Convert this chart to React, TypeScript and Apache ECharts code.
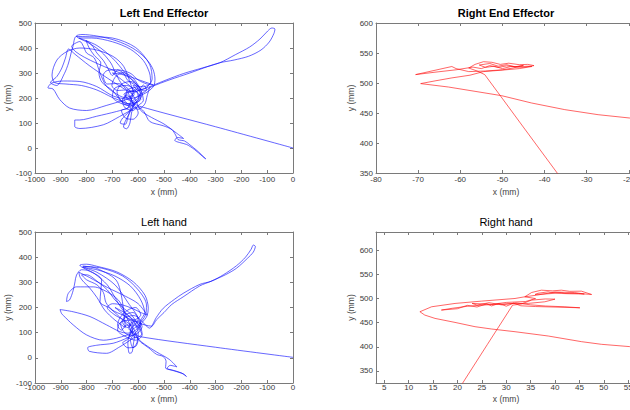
import React, { useEffect, useRef } from 'react';
import * as echarts from 'echarts';

// ---------- tick labels ----------
const leftXTicks = [-1000, -900, -800, -700, -600, -500, -400, -300, -200, -100, 0];
const leftYTicks = [-100, 0, 100, 200, 300, 400, 500];
const rightEEXTicks = [-80, -70, -60, -50, -40, -30, -20];
const rightEEYTicks = [350, 400, 450, 500, 550, 600];
const rightHandXTicks = [5, 10, 15, 20, 25, 30, 35, 40, 45, 50, 55];
const rightHandYTicks = [350, 400, 450, 500, 550, 600];

const titles = ['Left End Effector', 'Right End Effector', 'Left hand', 'Right hand'];

// ---------- trajectories [x (mm), y (mm)] ----------
const leftEndEffector: [number, number][] = [
  [0, 0], [-300, 85], [-598, 168],
  [-622, 182], [-648, 205], [-642, 232], [-612, 242], [-592, 220], [-608, 192], [-640, 176], [-668, 192], [-682, 225], [-664, 256], [-628, 266], [-600, 248], [-578, 228],
  [-548, 245], [-480, 272], [-400, 300], [-330, 326], [-284, 341], [-228, 352], [-172, 367], [-124, 392], [-92, 424], [-74, 458], [-70, 476], [-82, 480], [-98, 468], [-128, 436], [-168, 404], [-222, 374], [-284, 341], [-352, 320], [-424, 298], [-492, 272], [-544, 250],
  [-578, 236], [-612, 226], [-644, 234], [-668, 262], [-688, 300], [-706, 340], [-744, 386], [-792, 420], [-840, 448], [-818, 454], [-760, 448], [-697, 433], [-640, 410], [-594, 380], [-560, 345], [-542, 313], [-535, 276], [-540, 248], [-562, 226],
  [-600, 206], [-640, 196], [-697, 208], [-761, 246], [-826, 266], [-890, 268], [-935, 260], [-950, 241], [-930, 236], [-905, 195], [-866, 160], [-800, 150], [-724, 170], [-672, 186], [-640, 196], [-616, 214],
  [-628, 252], [-656, 326], [-697, 366], [-761, 392], [-826, 400], [-876, 386], [-915, 352], [-934, 292], [-924, 262], [-880, 256], [-820, 250], [-760, 232], [-700, 202], [-652, 182], [-622, 166],
  [-640, 128], [-657, 84], [-645, 77], [-632, 100], [-626, 140], [-614, 176],
  [-640, 160], [-684, 146], [-761, 127], [-828, 112], [-846, 112], [-846, 86], [-826, 78], [-735, 93], [-672, 126], [-630, 150], [-602, 164],
  [-578, 146], [-555, 106], [-503, 89], [-470, 74], [-455, 52], [-446, 34], [-420, 28], [-400, 13], [-370, -12], [-338, -44], [-352, -32], [-382, -6], [-412, 14], [-440, 22], [-458, 30], [-448, 42], [-424, 38], [-452, 60], [-500, 96], [-548, 122], [-590, 150],
  [-612, 196], [-640, 238], [-680, 258], [-720, 256], [-736, 290], [-720, 310], [-684, 313], [-632, 300], [-600, 272], [-566, 256], [-542, 253], [-858, 407], [-852, 414], [-826, 426], [-812, 406], [-800, 380], [-770, 360], [-748, 300], [-724, 248], [-690, 220], [-652, 202], [-622, 212],
  [-660, 240], [-720, 280], [-790, 330], [-845, 375], [-870, 396], [-882, 360], [-896, 320], [-916, 285], [-940, 262], [-916, 250], [-886, 298], [-870, 340], [-860, 380], [-853, 406], [-840, 446],
  [-790, 445], [-700, 440], [-610, 402], [-556, 335], [-546, 276], [-568, 242],
  [-600, 230], [-630, 205], [-615, 180], [-590, 195], [-605, 225], [-645, 250], [-690, 240], [-700, 205], [-670, 180], [-630, 170], [-600, 186], [-585, 215], [-610, 260], [-650, 290], [-700, 300], [-660, 270], [-620, 230], [-640, 160], [-665, 150], [-650, 120], [-620, 115], [-600, 140], [-625, 185], [-655, 215],
  [-600, 240], [-650, 300], [-700, 360], [-760, 410], [-830, 440], [-780, 440], [-700, 425], [-630, 395], [-580, 350], [-556, 300], [-552, 262], [-580, 245],
  [-620, 250], [-600, 230], [-580, 252], [-568, 232], [-600, 210], [-622, 190], [-642, 212], [-662, 190], [-650, 160], [-620, 150], [-600, 170], [-580, 190], [-590, 232], [-622, 282], [-660, 302], [-690, 282], [-702, 250], [-680, 230], [-650, 232], [-630, 200], [-620, 170], [-640, 140], [-660, 120], [-670, 100], [-650, 95], [-640, 122], [-630, 160],
  [-660, 180], [-700, 230], [-740, 262], [-752, 300], [-745, 340], [-770, 370], [-790, 400], [-802, 430], [-780, 412], [-760, 380], [-735, 350], [-718, 320], [-700, 290], [-680, 312], [-658, 300], [-640, 270], [-610, 250],
  [-590, 215], [-605, 185], [-635, 175], [-655, 195], [-640, 222], [-612, 228], [-598, 200], [-620, 168], [-600, 155], [-575, 175], [-565, 210], [-555, 245],
];

const leftHand: [number, number][] = [
  [0, 2], [-300, 42], [-592, 84],
  [-612, 96], [-636, 116], [-628, 140], [-600, 146], [-585, 124], [-600, 100], [-630, 88], [-656, 104], [-668, 134], [-650, 160], [-616, 168], [-590, 150], [-570, 128],
  [-556, 118], [-530, 160], [-503, 197], [-460, 232], [-426, 256], [-361, 292], [-318, 304], [-270, 330], [-219, 366], [-184, 400], [-162, 432], [-154, 448], [-146, 443], [-154, 420], [-176, 396], [-219, 356], [-262, 330], [-318, 304], [-361, 286], [-426, 242], [-470, 212], [-500, 180], [-530, 150], [-548, 126],
  [-572, 130], [-600, 140], [-630, 160], [-660, 190], [-690, 240], [-720, 290], [-770, 335], [-826, 368], [-800, 372], [-761, 364], [-684, 342], [-619, 302], [-574, 249], [-561, 197], [-566, 166], [-585, 140],
  [-610, 110], [-640, 98], [-671, 104], [-723, 131], [-787, 164], [-852, 183], [-903, 192], [-897, 176], [-890, 168], [-852, 131], [-800, 91], [-735, 70], [-684, 78], [-645, 90], [-620, 100],
  [-640, 150], [-671, 222], [-710, 256], [-774, 282], [-839, 282], [-871, 256], [-878, 224], [-866, 230], [-852, 268], [-845, 302], [-839, 329], [-820, 350], [-790, 345], [-742, 309], [-748, 223], [-710, 197], [-660, 150], [-630, 110],
  [-640, 60], [-634, 18], [-624, 22], [-618, 60], [-612, 95],
  [-640, 80], [-697, 58], [-761, 50], [-796, 40], [-790, 26], [-723, 18], [-671, 44], [-640, 64], [-610, 82],
  [-590, 62], [-560, 40], [-529, 14], [-503, 5], [-492, -14], [-494, -40], [-470, -48], [-432, -60], [-413, -74], [-425, -64], [-460, -52], [-488, -42], [-476, -30], [-450, -36], [-480, -6], [-530, 24], [-575, 54], [-600, 76],
  [-620, 120], [-655, 150], [-690, 170], [-720, 200], [-700, 215], [-660, 210], [-620, 195], [-590, 180], [-565, 170], [-600, 215], [-650, 245], [-720, 280], [-790, 320], [-830, 340], [-825, 320], [-810, 300], [-790, 280], [-760, 240], [-730, 190], [-690, 150], [-650, 120],
  [-680, 300], [-760, 355], [-815, 364], [-740, 356], [-660, 325], [-600, 270], [-568, 210], [-572, 170],
  [-600, 130], [-625, 105], [-610, 80], [-585, 95], [-595, 130], [-630, 150], [-670, 140], [-680, 110], [-650, 85], [-610, 70], [-585, 90], [-600, 120], [-640, 170], [-690, 200], [-650, 165], [-620, 130], [-640, 75], [-660, 60], [-640, 40], [-610, 45], [-600, 75], [-630, 110],
  [-600, 150], [-640, 220], [-690, 290], [-760, 340], [-815, 360], [-760, 350], [-690, 325], [-630, 285], [-590, 230], [-575, 180], [-590, 150],
  [-600, 120], [-620, 140], [-640, 120], [-660, 140], [-650, 170], [-620, 180], [-600, 160], [-590, 130], [-610, 100], [-630, 70], [-620, 40], [-605, 60], [-600, 100], [-615, 130], [-645, 130], [-665, 110], [-680, 130], [-670, 160], [-640, 190], [-610, 200], [-590, 170],
  [-620, 150], [-660, 170], [-700, 190], [-725, 220], [-735, 260], [-760, 290], [-800, 310], [-820, 330], [-800, 330], [-760, 305], [-720, 270], [-690, 230], [-660, 200], [-630, 175], [-605, 140], [-590, 110],
];

const rightEndEffector: [number, number][] = [
  [-34.9, 330], [-37, 350], [-45.4, 430], [-50.1, 475], [-54.2, 514],
  [-56, 520], [-58, 525], [-56.5, 531], [-54.5, 535.5], [-52.5, 534.5], [-50.5, 531], [-48.5, 533], [-46, 530.5], [-44, 531], [-42.5, 529], [-45, 526], [-48, 527.5], [-50, 524], [-52, 528], [-54, 526], [-55.5, 530], [-53, 532.5], [-51, 528], [-49, 530.5], [-47, 527], [-45, 529.5], [-47.5, 525], [-50, 522], [-54, 520], [-58, 519], [-61, 524], [-62, 527.5],
  [-70.6, 514], [-66, 518], [-61, 522], [-57, 526.5], [-55, 524], [-53, 529], [-51, 526], [-49, 528.5], [-46.5, 527], [-44, 528], [-43, 527.5], [-46, 524], [-50, 521.5], [-54.5, 519], [-57.7, 513],
  [-62, 508.5], [-66, 503.5], [-69.4, 499], [-62.8, 493.3], [-56.5, 486.1], [-50.2, 478.9], [-43.1, 466.7], [-35.2, 455.6], [-27.3, 447.2], [-19.9, 441.7], [-12, 437],
];

const rightHand: [number, number][] = [
  [19.8, 305], [21.05, 324.6], [26.14, 405], [31.3, 486.4],
  [33, 488.5], [35.2, 496.8], [38, 499.2], [40, 498.8], [37.9, 493.3], [34.5, 490], [31.8, 489.9], [28, 488.2], [25, 486.4], [22, 484], [19, 480], [16.7, 476.2],
  [20, 479], [22, 486], [24, 482.5], [26, 489], [27, 484.8], [28.5, 490], [30, 484.2], [31.5, 490.5], [33, 485], [36, 483.5], [40, 482.4], [45.1, 480.9], [42, 483], [38, 484.6], [35, 487], [32, 491], [29, 487], [26.5, 491.5], [24, 486.5], [23, 490], [27, 488], [30, 492], [34, 494],
  [36, 500], [33.8, 503.7], [35.2, 512.6], [37.2, 517.4], [39.5, 516], [41.3, 517.4], [43, 515], [45.4, 515.4], [47.5, 508.5], [44.8, 510.5], [42, 511], [41.3, 512.6], [39, 513], [38.6, 514], [36.5, 511], [35.9, 508.5], [38, 509.5], [40, 511], [43, 510], [46, 509.5], [44, 512.5], [40, 513.5], [36.2, 507], [33.8, 503.7],
  [31.8, 500.2], [24.9, 494.7], [19.5, 489.9], [14.7, 483], [12.3, 472.7], [13.3, 465.8], [15.4, 458.9], [19.5, 450.6], [23.6, 441.7], [27, 436.9], [31.8, 431.3], [38.6, 422.4], [45.4, 410.7], [49.5, 405.2], [55.3, 400.4], [62, 396],
];

const FONT = '"Liberation Sans", Arial, Helvetica, sans-serif';
const AXIS_COLOR = '#7a7a7a';
const LABEL_COLOR = '#3a3a3a';

type PanelSpec = {
  grid: { left: number; top: number; width: number; height: number };
  xMin: number; xMax: number; xTicks: number[];
  yMin: number; yMax: number; yTicks: number[];
  xNameGap: number; xLabelMargin: number; yNameGap: number;
  data: [number, number][]; color: string; smooth: number | boolean;
};

const panels: PanelSpec[] = [
  { grid: { left: 35, top: 23, width: 258, height: 150 }, xMin: -1000, xMax: 0, xTicks: leftXTicks, yMin: -100, yMax: 500, yTicks: leftYTicks, xNameGap: 14, xLabelMargin: 2, yNameGap: 20, data: leftEndEffector, color: '#1010ff', smooth: 0.3 },
  { grid: { left: 376, top: 23, width: 260, height: 150 }, xMin: -80, xMax: -18.3, xTicks: rightEEXTicks, yMin: 350, yMax: 600, yTicks: rightEEYTicks, xNameGap: 14, xLabelMargin: 2, yNameGap: 18, data: rightEndEffector, color: '#ff1010', smooth: false },
  { grid: { left: 35, top: 232, width: 258, height: 151 }, xMin: -1000, xMax: 0, xTicks: leftXTicks, yMin: -100, yMax: 500, yTicks: leftYTicks, xNameGap: 11, xLabelMargin: 0, yNameGap: 20, data: leftHand, color: '#1010ff', smooth: 0.3 },
  { grid: { left: 376, top: 232, width: 260, height: 151 }, xMin: 3.3, xMax: 56.6, xTicks: rightHandXTicks, yMin: 325, yMax: 638, yTicks: rightHandYTicks, xNameGap: 11, xLabelMargin: 0, yNameGap: 18, data: rightHand, color: '#ff1010', smooth: false },
];

const titleX = [164, 506, 164, 506];
const titleY = [12.5, 12.5, 221.5, 221.5];
const titleWeight = ['bold', 'bold', 'normal', 'normal'];

function buildOption() {
  const grid: any[] = [];
  const xAxis: any[] = [];
  const yAxis: any[] = [];
  const series: any[] = [];
  const line = { show: true, onZero: false, lineStyle: { color: AXIS_COLOR, width: 1 } };
  const fmt = (v: number) => String(Math.round(v * 100) / 100);
  panels.forEach((p, i) => {
    grid.push({ ...p.grid, containLabel: false, outerBoundsMode: 'none' });
    const labelStyle = { fontSize: 8, color: LABEL_COLOR, fontFamily: FONT, formatter: fmt };
    xAxis.push({
      type: 'value', gridIndex: i, position: 'bottom', min: p.xMin, max: p.xMax,
      name: 'x (mm)', nameLocation: 'middle', nameGap: p.xNameGap,
      nameTextStyle: { fontSize: 8.5, color: '#444', fontFamily: FONT },
      axisLine: line,
      axisTick: { show: true, inside: true, length: 3, customValues: p.xTicks, lineStyle: { color: AXIS_COLOR } },
      axisLabel: { show: true, customValues: p.xTicks, margin: p.xLabelMargin, ...labelStyle },
      splitLine: { show: false },
    });
    xAxis.push({
      type: 'value', gridIndex: i, position: 'top', min: p.xMin, max: p.xMax,
      axisLine: line,
      axisTick: { show: true, inside: true, length: 3, customValues: p.xTicks, lineStyle: { color: AXIS_COLOR } },
      axisLabel: { show: false },
      splitLine: { show: false },
    });
    yAxis.push({
      type: 'value', gridIndex: i, position: 'left', min: p.yMin, max: p.yMax,
      name: 'y (mm)', nameLocation: 'middle', nameGap: p.yNameGap,
      nameTextStyle: { fontSize: 8.5, color: '#444', fontFamily: FONT },
      axisLine: line,
      axisTick: { show: true, inside: true, length: 3, customValues: p.yTicks, lineStyle: { color: AXIS_COLOR } },
      axisLabel: { show: true, customValues: p.yTicks, margin: 3, ...labelStyle },
      splitLine: { show: false },
    });
    yAxis.push({
      type: 'value', gridIndex: i, position: 'right', min: p.yMin, max: p.yMax,
      axisLine: line,
      axisTick: { show: true, inside: true, length: 3, customValues: p.yTicks, lineStyle: { color: AXIS_COLOR } },
      axisLabel: { show: false },
      splitLine: { show: false },
    });
    series.push({
      type: 'line', xAxisIndex: i * 2, yAxisIndex: i * 2, data: p.data,
      symbol: 'none', showSymbol: false, smooth: p.smooth, clip: true, silent: true,
      lineStyle: { color: p.color, width: 0.75, opacity: 0.85 },
    });
  });
  const graphic = titles.map((t, i) => ({
    type: 'text', x: titleX[i], y: titleY[i], silent: true,
    style: { text: t, align: 'center', verticalAlign: 'middle', fontSize: 11, fontWeight: titleWeight[i], fontFamily: FONT, fill: '#000' },
  }));
  return { animation: false, backgroundColor: '#fff', grid, xAxis, yAxis, series, graphic };
}

export default function App() {
  const ref = useRef<HTMLDivElement>(null);
  useEffect(() => {
    if (!ref.current) return;
    const chart = echarts.init(ref.current, undefined, { renderer: 'svg' });
    chart.setOption(buildOption() as any);
    return () => chart.dispose();
  }, []);
  return <div ref={ref} style={{ position: 'fixed', left: 0, top: 0, width: 630, height: 410, background: '#fff' }} />;
}
